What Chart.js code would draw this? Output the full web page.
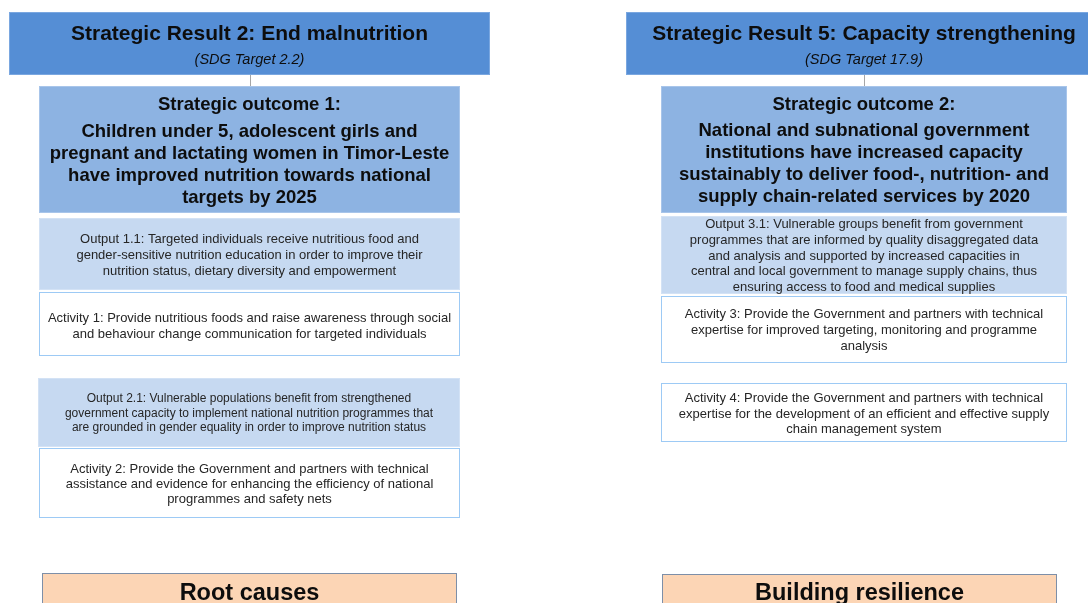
<!DOCTYPE html>
<html>
<head>
<meta charset="utf-8">
<script src="https://cdn.jsdelivr.net/npm/chart.js@4/dist/chart.umd.min.js"></script>
<style>
  html, body { margin:0; padding:0; background:#fff; }
  #wrap { width:1088px; height:603px; position:relative; }
</style>
</head>
<body>
<div id="wrap"><canvas id="diagram"></canvas></div>
<script>
// diagram texts, one entry per column
var resultTitles = ['Strategic Result 2: End malnutrition', 'Strategic Result 5: Capacity strengthening'];
var sdgTargets   = ['(SDG Target 2.2)', '(SDG Target 17.9)'];
var outcomeHeads = ['Strategic outcome 1:', 'Strategic outcome 2:'];
var outcomeLines = [
  ['Children under 5, adolescent girls and',
   'pregnant and lactating women in Timor-Leste',
   'have improved nutrition towards national',
   'targets by 2025'],
  ['National and subnational government',
   'institutions have increased capacity',
   'sustainably to deliver food-, nutrition- and',
   'supply chain-related services by 2020']
];
var outputLines = [
  [['Output 1.1: Targeted individuals receive nutritious food and',
    'gender-sensitive nutrition education in order to improve their',
    'nutrition status, dietary diversity and empowerment'],
   ['Output 2.1: Vulnerable populations benefit from strengthened',
    'government capacity to implement national nutrition programmes that',
    'are grounded in gender equality in order to improve nutrition status']],
  [['Output 3.1: Vulnerable groups benefit from government',
    'programmes that are informed by quality disaggregated data',
    'and analysis and supported by increased capacities in',
    'central and local government to manage supply chains, thus',
    'ensuring access to food and medical supplies']]
];
var activityLines = [
  [['Activity 1: Provide nutritious foods and raise awareness through social',
    'and behaviour change communication for targeted individuals'],
   ['Activity 2: Provide the Government and partners with technical',
    'assistance and evidence for enhancing the efficiency of national',
    'programmes and safety nets']],
  [['Activity 3: Provide the Government and partners with technical',
    'expertise for improved targeting, monitoring and programme',
    'analysis'],
   ['Activity 4: Provide the Government and partners with technical',
    'expertise for the development of an efficient and effective supply',
    'chain management system']]
];
var footerTitles = ['Root causes', 'Building resilience'];

// layout (diagram units, same as the x/y scale ranges)
var FONT = '"Liberation Sans", Arial, sans-serif';
var styles = {
  result:   { fill:'#558ed5', stroke:'#7aa7e0', color:'#0d0d0d' },
  outcome:  { fill:'#8db3e2', stroke:'#a8c5ea', color:'#0d0d0d' },
  output:   { fill:'#c6d9f1', stroke:'#d3e2f5', color:'#262626' },
  activity: { fill:'#ffffff', stroke:'#9dcaf5', color:'#262626' },
  footer:   { fill:'#fcd5b5', stroke:'#7d8fa8', color:'#0d0d0d' }
};

function buildBoxes(){
  var b = [];
  // left column
  b.push({ kind:'result', r:[9,12,490,75], lines:[
    {t:resultTitles[0], y:40, font:'bold 21px '+FONT},
    {t:sdgTargets[0], y:64, font:'italic 14.5px '+FONT}] });
  b.push({ kind:'outcome', r:[39,86,460,213], lines:
    [{t:outcomeHeads[0], y:110, font:'bold 18.5px '+FONT}].concat(
      outcomeLines[0].map(function(s,i){ return {t:s, y:137+i*22, font:'bold 18.5px '+FONT}; })) });
  b.push({ kind:'output', r:[39,218,460,290], lines:
    outputLines[0][0].map(function(s,i){ return {t:s, y:243+i*16, font:'13px '+FONT}; }) });
  b.push({ kind:'activity', r:[39,292,460,356], lines:
    activityLines[0][0].map(function(s,i){ return {t:s, y:322+i*15.5, font:'13px '+FONT}; }) });
  b.push({ kind:'output', r:[38,378,460,447], lines:
    outputLines[0][1].map(function(s,i){ return {t:s, y:402+i*14.5, font:'12px '+FONT}; }) });
  b.push({ kind:'activity', r:[39,448,460,518], lines:
    activityLines[0][1].map(function(s,i){ return {t:s, y:473+i*15, font:'13px '+FONT}; }) });
  b.push({ kind:'footer', r:[42,573,457,610], lines:[
    {t:footerTitles[0], y:600, font:'bold 23.5px '+FONT}] });
  // right column
  b.push({ kind:'result', r:[626,12,1092,75], lines:[
    {t:resultTitles[1], y:40, font:'bold 21px '+FONT, cx:864},
    {t:sdgTargets[1], y:64, font:'italic 14.5px '+FONT, cx:864}] });
  b.push({ kind:'outcome', r:[661,86,1067,213], lines:
    [{t:outcomeHeads[1], y:110, font:'bold 18.5px '+FONT}].concat(
      outcomeLines[1].map(function(s,i){ return {t:s, y:136+i*22, font:'bold 18.5px '+FONT}; })) });
  b.push({ kind:'output', r:[661,216,1067,294], lines:
    outputLines[1][0].map(function(s,i){ return {t:s, y:228+i*15.75, font:'13px '+FONT}; }) });
  b.push({ kind:'activity', r:[661,296,1067,363], lines:
    activityLines[1][0].map(function(s,i){ return {t:s, y:318+i*16, font:'13px '+FONT}; }) });
  b.push({ kind:'activity', r:[661,383,1067,442], lines:
    activityLines[1][1].map(function(s,i){ return {t:s, y:402+i*15.5, font:'13px '+FONT}; }) });
  b.push({ kind:'footer', r:[662,574,1057,610], lines:[
    {t:footerTitles[1], y:600, font:'bold 23.5px '+FONT}] });
  return b;
}
var boxes = buildBoxes();
var connectors = [[250,75,250,86],[864,75,864,86]];

var boxPlugin = {
  id:'boxes',
  afterDatasetsDraw: function(chart){
    var ctx = chart.ctx, xs = chart.scales.x, ys = chart.scales.y;
    function px(v){ return xs.getPixelForValue(v); }
    function py(v){ return ys.getPixelForValue(v); }
    ctx.save();
    ctx.strokeStyle = '#a6a6a6';
    ctx.lineWidth = 1;
    connectors.forEach(function(c){
      ctx.beginPath();
      ctx.moveTo(Math.round(px(c[0]))+0.5, py(c[1]));
      ctx.lineTo(Math.round(px(c[2]))+0.5, py(c[3]));
      ctx.stroke();
    });
    boxes.forEach(function(bx){
      var st = styles[bx.kind];
      var x0 = Math.round(px(bx.r[0])), y0 = Math.round(py(bx.r[1]));
      var x1 = Math.round(px(bx.r[2])), y1 = Math.round(py(bx.r[3]));
      ctx.fillStyle = st.fill;
      ctx.fillRect(x0, y0, x1-x0, y1-y0);
      ctx.strokeStyle = st.stroke;
      ctx.lineWidth = 1;
      ctx.strokeRect(x0+0.5, y0+0.5, x1-x0-1, y1-y0-1);
      ctx.fillStyle = st.color;
      ctx.textAlign = 'center';
      ctx.textBaseline = 'alphabetic';
      bx.lines.forEach(function(l){
        ctx.font = l.font;
        var cx = l.cx != null ? px(l.cx) : (x0+x1)/2;
        ctx.fillText(l.t, cx, py(l.y));
      });
    });
    ctx.restore();
  }
};

document.addEventListener('DOMContentLoaded', function(){
  new Chart(document.getElementById('diagram'), {
    type:'scatter',
    data:{ datasets:[{ data: boxes.map(function(b){ return {x:(b.r[0]+b.r[2])/2, y:(b.r[1]+b.r[3])/2}; }), pointRadius:0 }] },
    options:{
      responsive:true, maintainAspectRatio:false, animation:false,
      layout:{ padding:0 },
      plugins:{ legend:{display:false}, tooltip:{enabled:false} },
      scales:{
        x:{ type:'linear', min:0, max:1088, display:false },
        y:{ type:'linear', min:0, max:603, reverse:true, display:false }
      }
    },
    plugins:[boxPlugin]
  });
});
</script>
</body>
</html>
